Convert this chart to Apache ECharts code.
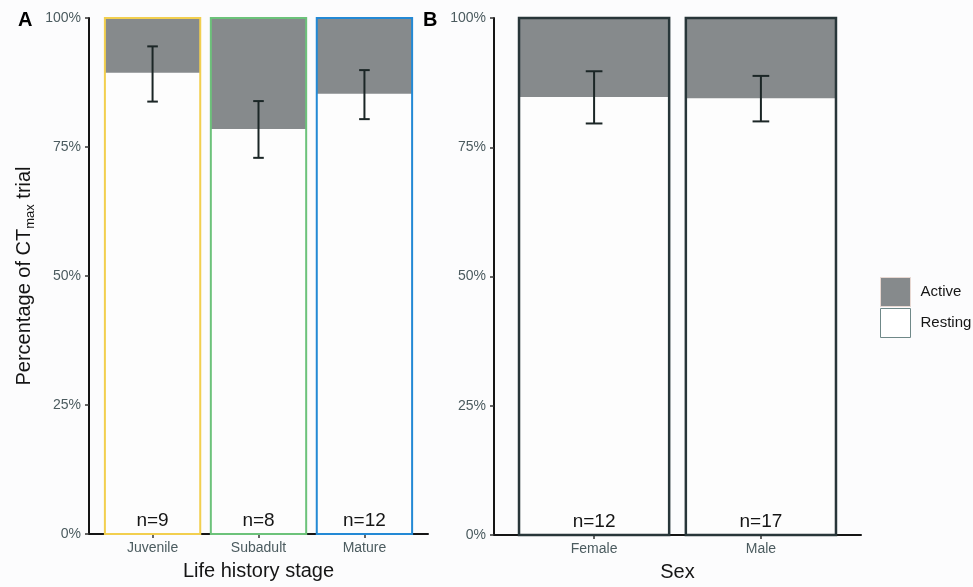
<!DOCTYPE html>
<html><head><meta charset="utf-8">
<script src="https://cdn.jsdelivr.net/npm/echarts@6/dist/echarts.min.js"></script>
<style>html,body{margin:0;padding:0;background:#fcfcfd}#c{width:973px;height:587px}</style>
</head><body><div id="c"></div>
<script>
// ---- data ----
const stageCategories = ['Juvenile', 'Subadult', 'Mature'];
const stageResting = [89.4, 78.5, 85.3];
const stageErrLow = [83.8, 72.9, 80.4];
const stageErrHigh = [94.5, 83.9, 89.9];
const stageN = ['n=9', 'n=8', 'n=12'];

const sexCategories = ['Female', 'Male'];
const sexResting = [84.7, 84.5];
const sexErrLow = [79.6, 80.0];
const sexErrHigh = [89.7, 88.8];
const sexN = ['n=12', 'n=17'];

const yTickValues = [0, 25, 50, 75, 100];
const legendNames = ['Active', 'Resting'];

// ---- styles ----
const stageBorder = ['#f2cf4f', '#6cc27a', '#2389d5'];
const sexBorder = ['#283639', '#283639'];
const activeFill = '#868a8c';
const restFill = '#fdfdfd';
const tickColor = '#4b5b5f';
const ink = '#151515';

const chart = echarts.init(document.getElementById('c'));

function restRender(params, api) {
  const x = api.value(0), v = api.value(1);
  const w = api.size([0.9, 0])[0];
  const p0 = api.coord([x, 0]), p1 = api.coord([x, v]);
  return { type: 'rect', shape: { x: p0[0] - w / 2, y: p1[1], width: w, height: p0[1] - p1[1] }, style: { fill: restFill } };
}
function activeRender(params, api) {
  const x = api.value(0), v = api.value(1);
  const w = api.size([0.9, 0])[0];
  const p0 = api.coord([x, v]), p1 = api.coord([x, 100]);
  return { type: 'rect', shape: { x: p0[0] - w / 2, y: p1[1], width: w, height: p0[1] - p1[1] }, style: { fill: activeFill } };
}
function frameRenderFactory(borders, lw, labels) {
  return function (params, api) {
    const i = params.dataIndex;
    const x = api.value(0), lo = api.value(1), hi = api.value(2);
    const w = api.size([0.9, 0])[0];
    const cw = api.size([0.1, 0])[0];
    const b = api.coord([x, 0]), t = api.coord([x, 100]);
    const pl = api.coord([x, lo]), ph = api.coord([x, hi]);
    const eb = { stroke: '#1b2626', lineWidth: 2 };
    return {
      type: 'group', children: [
        { type: 'rect', shape: { x: b[0] - w / 2, y: t[1], width: w, height: b[1] - t[1] }, style: { fill: null, stroke: borders[i], lineWidth: lw } },
        { type: 'line', shape: { x1: pl[0], y1: pl[1], x2: ph[0], y2: ph[1] }, style: eb },
        { type: 'line', shape: { x1: pl[0] - cw / 2, y1: pl[1], x2: pl[0] + cw / 2, y2: pl[1] }, style: eb },
        { type: 'line', shape: { x1: ph[0] - cw / 2, y1: ph[1], x2: ph[0] + cw / 2, y2: ph[1] }, style: eb },
        { type: 'text', x: b[0], y: b[1] - 4, style: { text: labels[i], fontSize: 19, fontFamily: 'Liberation Sans, Arial', fill: ink, align: 'center', verticalAlign: 'bottom' } }
      ]
    };
  };
}

function xAxisFor(gridIndex, cats, name) {
  const pos = cats.map((_, i) => i + 1);
  return {
    gridIndex, type: 'value', min: 0.4, max: cats.length + 0.6,
    axisLine: { show: true, onZero: false, lineStyle: { color: ink, width: 2 } },
    axisTick: { show: true, customValues: pos, length: 4, lineStyle: { color: '#333', width: 1.5 } },
    axisLabel: { customValues: pos, formatter: v => cats[Math.round(v) - 1], color: tickColor, fontSize: 14, margin: 7, fontFamily: 'Liberation Sans, Arial' },
    splitLine: { show: false },
    name, nameLocation: 'middle', nameGap: 27,
    nameTextStyle: { fontSize: 20, color: ink, fontFamily: 'Liberation Sans, Arial' }
  };
}
function yAxisFor(gridIndex, withName) {
  const ax = {
    gridIndex, type: 'value', min: 0, max: 100, interval: 25,
    axisLine: { show: true, onZero: false, lineStyle: { color: ink, width: 2 } },
    axisTick: { show: true, length: 4, lineStyle: { color: '#333', width: 1.5 } },
    axisLabel: { formatter: v => (yTickValues.indexOf(v) >= 0 ? v + '%' : ''), color: tickColor, fontSize: 14, margin: 8, fontFamily: 'Liberation Sans, Arial' },
    splitLine: { show: false }
  };
  if (withName) {
    ax.name = 'Percentage of CT{sub|max} trial';
    ax.nameLocation = 'middle';
    ax.nameGap = 52;
    ax.nameTextStyle = {
      fontSize: 20, color: ink, fontFamily: 'Liberation Sans, Arial', lineHeight: 26,
      rich: { sub: { fontSize: 13, color: ink, fontFamily: 'Liberation Sans, Arial', lineHeight: 13, verticalAlign: 'bottom' } }
    };
  }
  return ax;
}

const stageIdx = stageCategories.map((_, i) => i + 1);
const sexIdx = sexCategories.map((_, i) => i + 1);

chart.setOption({
  animation: false,
  backgroundColor: '#fcfcfd',
  grid: [
    { left: 89, top: 18, width: 339, height: 516 },
    { left: 494, top: 18, width: 367, height: 519 }
  ],
  xAxis: [xAxisFor(0, stageCategories, 'Life history stage'), xAxisFor(1, sexCategories, 'Sex')],
  yAxis: [yAxisFor(0, true), yAxisFor(1, false)],
  legend: {
    orient: 'vertical', left: 880, top: 277, itemWidth: 30, itemHeight: 29, itemGap: 1, padding: 0,
    icon: 'rect',
    data: [
      { name: legendNames[0], itemStyle: { color: activeFill, borderColor: '#e8d8d2', borderWidth: 1 } },
      { name: legendNames[1], itemStyle: { color: '#ffffff', borderColor: '#6f8888', borderWidth: 1 } }
    ],
    textStyle: { fontSize: 15, color: ink, fontFamily: 'Liberation Sans, Arial', padding: [0, 0, 0, 5] },
    selectedMode: false
  },
  graphic: [
    { type: 'text', left: 18, top: 10, style: { text: 'A', fontSize: 20, fontWeight: 'bold', fill: '#000', fontFamily: 'Liberation Sans, Arial' } },
    { type: 'text', left: 423, top: 10, style: { text: 'B', fontSize: 20, fontWeight: 'bold', fill: '#000', fontFamily: 'Liberation Sans, Arial' } }
  ],
  series: [
    { type: 'custom', name: 'Resting', xAxisIndex: 0, yAxisIndex: 0, itemStyle: { color: restFill }, renderItem: restRender,
      data: stageIdx.map((x, i) => [x, stageResting[i]]) },
    { type: 'custom', name: 'Active', xAxisIndex: 0, yAxisIndex: 0, itemStyle: { color: activeFill }, renderItem: activeRender,
      data: stageIdx.map((x, i) => [x, stageResting[i]]) },
    { type: 'custom', name: 'frameA', xAxisIndex: 0, yAxisIndex: 0, renderItem: frameRenderFactory(stageBorder, 2, stageN),
      data: stageIdx.map((x, i) => [x, stageErrLow[i], stageErrHigh[i]]) },
    { type: 'custom', name: 'Resting', xAxisIndex: 1, yAxisIndex: 1, itemStyle: { color: restFill }, renderItem: restRender,
      data: sexIdx.map((x, i) => [x, sexResting[i]]) },
    { type: 'custom', name: 'Active', xAxisIndex: 1, yAxisIndex: 1, itemStyle: { color: activeFill }, renderItem: activeRender,
      data: sexIdx.map((x, i) => [x, sexResting[i]]) },
    { type: 'custom', name: 'frameB', xAxisIndex: 1, yAxisIndex: 1, renderItem: frameRenderFactory(sexBorder, 2.5, sexN),
      data: sexIdx.map((x, i) => [x, sexErrLow[i], sexErrHigh[i]]) }
  ]
});
</script>
</body></html>
